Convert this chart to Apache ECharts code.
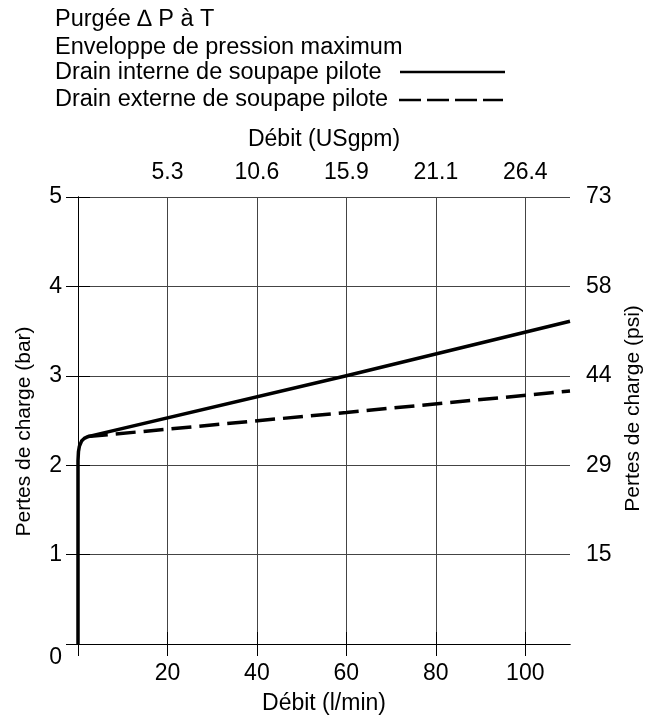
<!DOCTYPE html>
<html>
<head>
<meta charset="utf-8">
<script src="https://cdn.jsdelivr.net/npm/echarts@6/dist/echarts.min.js"></script>
<style>
  html, body { margin: 0; padding: 0; background: #fff; }
  #chart { width: 657px; height: 721px; }
</style>
</head>
<body>
<div id="chart"></div>
<script>
// Flow axis (l/min) and its US gallon-per-minute equivalents on the top axis
const flowTicks = [0, 20, 40, 60, 80, 100];
const usgpmTicks = [20, 40, 60, 80, 100];
const usgpmLabels = ['5.3', '10.6', '15.9', '21.1', '26.4'];

// Pressure drop axis (bar) and the matching psi labels on the right axis
const barTicks = [0, 1, 2, 3, 4, 5];
const psiLabels = ['', '15', '29', '44', '58', '73'];

// Pressure drop curves: [flow l/min, pressure bar]
const internalDrain = [
  [0, 0], [0, 2.05], [0.1, 2.15], [0.3, 2.21], [0.8, 2.27],
  [1.4, 2.30], [2.2, 2.32], [60, 3.0], [110, 3.61]
];
const externalDrain = [
  [2.2, 2.32], [60, 2.59], [110, 2.83]
];

const FONT = '"Liberation Sans", Arial, Helvetica, sans-serif';
const TXT = { fontFamily: FONT, fontSize: 23, color: '#000' };

function headerText(text, y) {
  return {
    type: 'text', x: 55, y: y,
    style: { text: text, font: '23.5px ' + FONT, fill: '#000', verticalAlign: 'middle', align: 'left' }
  };
}

const chart = echarts.init(document.getElementById('chart'), null, { renderer: 'canvas' });

chart.setOption({
  backgroundColor: '#fff',
  animation: false,
  grid: { left: 78, right: 87, top: 197, bottom: 77, containLabel: false },
  graphic: [
    headerText('Purgée ∆ P à T', 19.5),
    headerText('Enveloppe de pression maximum', 48),
    headerText('Drain interne de soupape pilote', 72.5),
    headerText('Drain externe de soupape pilote', 100),
    { type: 'line', shape: { x1: 400, y1: 72, x2: 505, y2: 72 }, style: { stroke: '#000', lineWidth: 2.5 } },
    { type: 'line', shape: { x1: 399, y1: 100, x2: 503, y2: 100 }, style: { stroke: '#000', lineWidth: 2.5, lineDash: [22, 6] } }
  ],
  xAxis: [
    {
      type: 'value', position: 'bottom', min: 0, max: 110,
      name: 'Débit (l/min)', nameLocation: 'middle', nameGap: 48,
      nameTextStyle: TXT,
      axisLine: { show: true, lineStyle: { color: '#000', width: 1 } },
      axisTick: { show: true, inside: false, length: 12, customValues: flowTicks, lineStyle: { color: '#000', width: 1 } },
      axisLabel: {
        customValues: flowTicks, margin: 18, ...TXT,
        formatter: v => (v === 0 ? '' : String(v))
      },
      splitLine: { show: true, lineStyle: { color: '#444', width: 1 } }
    },
    {
      type: 'value', position: 'top', min: 0, max: 110,
      name: 'Débit (USgpm)', nameLocation: 'middle', nameGap: 46,
      nameTextStyle: TXT,
      axisLine: { show: true, lineStyle: { color: '#000', width: 1 } },
      axisTick: { show: true, inside: false, length: 12, customValues: usgpmTicks, lineStyle: { color: '#000', width: 1 } },
      axisLabel: {
        customValues: usgpmTicks, margin: 13, ...TXT,
        formatter: v => usgpmLabels[usgpmTicks.indexOf(v)] || ''
      },
      splitLine: { show: false }
    }
  ],
  yAxis: [
    {
      type: 'value', position: 'left', min: 0, max: 5, interval: 1,
      name: 'Pertes de charge (bar)', nameLocation: 'middle', nameGap: 43,
      nameTextStyle: { ...TXT, fontSize: 21, padding: [0, 22, 0, 0] },
      axisLine: { show: true, lineStyle: { color: '#000', width: 1 } },
      axisTick: { show: true, inside: false, length: 12, lineStyle: { color: '#000', width: 1 } },
      axisLabel: {
        margin: 16, ...TXT,
        formatter: v => (v === 0 ? '{z|0}' : String(v)),
        rich: { z: { ...TXT, padding: [28, 0, 0, 0] } }
      },
      splitLine: { show: true, lineStyle: { color: '#444', width: 1 } }
    },
    {
      type: 'value', position: 'right', min: 0, max: 5, interval: 1,
      name: 'Pertes de charge (psi)', nameLocation: 'middle', nameGap: 50,
      nameTextStyle: { ...TXT, fontSize: 21, padding: [0, 0, 0, 24] },
      axisLine: { show: true, lineStyle: { color: '#000', width: 1 } },
      axisTick: { show: true, inside: false, length: 12, lineStyle: { color: '#000', width: 1 } },
      axisLabel: {
        margin: 16, ...TXT,
        formatter: v => psiLabels[barTicks.indexOf(v)] || ''
      },
      splitLine: { show: false }
    }
  ],
  series: [
    {
      name: 'Drain interne de soupape pilote',
      type: 'line', xAxisIndex: 0, yAxisIndex: 0,
      data: internalDrain, showSymbol: false, symbol: 'none', clip: false,
      lineStyle: { color: '#000', width: 3.5, join: 'round', cap: 'butt' },
      z: 5
    },
    {
      name: 'Drain externe de soupape pilote',
      type: 'line', xAxisIndex: 0, yAxisIndex: 0,
      data: externalDrain, showSymbol: false, symbol: 'none', clip: false,
      lineStyle: { color: '#000', width: 3.5, type: [20, 8] },
      z: 5
    }
  ]
});
</script>
</body>
</html>
